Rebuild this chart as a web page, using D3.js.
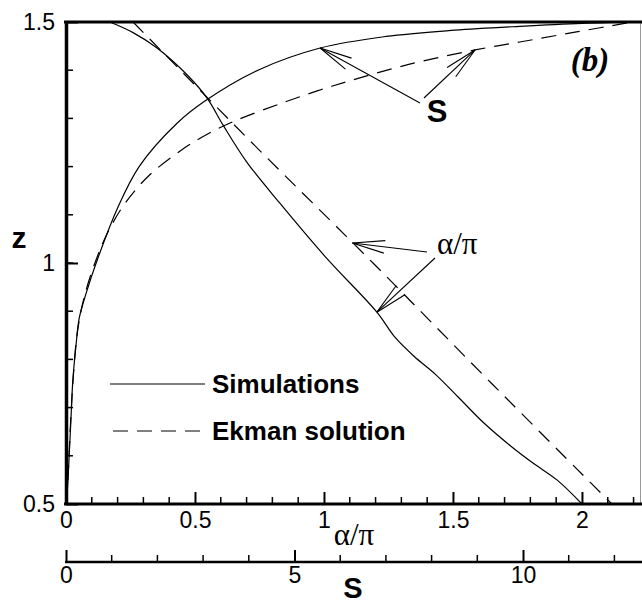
<!DOCTYPE html>
<html><head><meta charset="utf-8">
<script src="https://cdn.jsdelivr.net/npm/d3@7"></script>
<style>
html,body{margin:0;padding:0;background:#fff;}
svg{display:block;}
</style></head>
<body>
<svg id="chart" width="642" height="605"></svg>
<script>
// Axis ticks
const zTicks = [0.5, 1, 1.5];
const alphaTicks = [0, 0.5, 1, 1.5, 2];
const sTicks = [0, 5, 10];

// Rotation angle alpha/pi against height z
const simAlpha = [[0.17,1.5],[0.26,1.478],[0.353,1.446],[0.47,1.39],[0.547,1.342],[0.609,1.286],
  [0.70,1.21],[0.829,1.124],[1.01,1.01],[1.205,0.898],[1.275,0.846],[1.35,0.806],[1.43,0.77],
  [1.52,0.722],[1.62,0.668],[1.72,0.622],[1.81,0.585],[1.903,0.55],[2.0,0.5]];
const ekmanAlpha = [[0.26,1.5],[0.72,1.25],[1.19,1.0],[1.65,0.75],[2.116,0.5]];

// Speed S against height z
const simS = [[0,0.5],[0.03,0.53],[0.07,0.6],[0.11,0.68],[0.15,0.757],[0.22,0.83],[0.29,0.886],
  [0.45,0.94],[0.66,1.0],[1.11,1.11],[1.6,1.2],[2.43,1.29],[3.04,1.336],[4.2,1.4],[5.56,1.446],
  [7.0,1.47],[8.5,1.483],[9.93,1.491],[11.3,1.497],[12.56,1.5]];
const ekmanS = [[0,0.5],[0.04,0.55],[0.09,0.65],[0.15,0.75],[0.24,0.85],[0.4,0.93],[0.68,1.012],
  [0.95,1.07],[1.3,1.125],[1.8,1.18],[2.49,1.232],[3.05,1.265],[3.65,1.293],[4.79,1.334],
  [5.56,1.359],[6.21,1.378],[7.5,1.412],[8.95,1.442],[9.93,1.4585],[11.2,1.48],[12.4,1.5]];

const legendItems = [{name:"Simulations", dash:null}, {name:"Ekman solution", dash:"15,9"}];

const svg = d3.select("#chart");
const L = 66, R = 640, T = 22, B = 504, SY = 562;
const sans = "'Liberation Sans', Arial, sans-serif";
const serif = "'Liberation Serif', 'Times New Roman', serif";

const xA = d3.scaleLinear().domain([0, 2.225]).range([L, R]);
const xS = d3.scaleLinear().domain([0, 12.56]).range([L, R]);
const y = d3.scaleLinear().domain([0.5, 1.5]).range([B, T]);

// curves
svg.append("defs").append("clipPath").attr("id","plot")
  .append("rect").attr("x",L).attr("y",T-1).attr("width",R-L).attr("height",B-T+1);
const g = svg.append("g").attr("clip-path","url(#plot)");
const lineA = d3.line().x(d=>xA(d[0])).y(d=>y(d[1])).curve(d3.curveCatmullRom.alpha(0.5));
const lineS = d3.line().x(d=>xS(d[0])).y(d=>y(d[1])).curve(d3.curveCatmullRom.alpha(0.5));
const series = [
  {data: simAlpha, line: lineA, dash: null},
  {data: ekmanAlpha, line: lineA, dash: "15,9"},
  {data: simS, line: lineS, dash: null},
  {data: ekmanS, line: lineS, dash: "15,9"}
];
series.forEach(s => {
  g.append("path").attr("d", s.line(s.data)).attr("fill","none")
    .attr("stroke","#000").attr("stroke-width",1.2)
    .attr("stroke-dasharray", s.dash);
});

// frame
svg.append("line").attr("x1",R+0.5).attr("x2",R+0.5).attr("y1",T).attr("y2",B)
  .attr("stroke","#999").attr("stroke-width",1);
svg.append("line").attr("x1",L-2).attr("x2",642).attr("y1",T).attr("y2",T)
  .attr("stroke","#000").attr("stroke-width",3);

function styleAxis(sel, w) {
  sel.select(".domain").attr("stroke","#000").attr("stroke-width",w);
  sel.selectAll(".tick line").attr("stroke","#000").attr("stroke-width",2);
  sel.selectAll(".tick text").attr("font-family",sans).attr("font-size",23).attr("fill","#000");
}

// minor ticks
function minor(scale, values, draw) { values.forEach(v => draw(scale(v))); }

// z axis
const ya = svg.append("g").attr("transform",`translate(${L},0)`)
  .call(d3.axisLeft(y).tickValues(zTicks).tickFormat(d3.format("")).tickSizeInner(-12).tickSizeOuter(0).tickPadding(11));
styleAxis(ya, 3.5);
minor(y, d3.range(0.6,1.45,0.1), v => svg.append("line").attr("x1",L).attr("x2",L+7)
  .attr("y1",v).attr("y2",v).attr("stroke","#000").attr("stroke-width",1.5));

// alpha/pi axis
const xa = svg.append("g").attr("transform",`translate(0,${B})`)
  .call(d3.axisBottom(xA).tickValues(alphaTicks).tickFormat(d3.format("")).tickSizeInner(-12).tickSizeOuter(0).tickPadding(8));
styleAxis(xa, 3);
xa.select(".domain").attr("d", `M${L-2},0H642`);
minor(xA, d3.range(0.1,2.25,0.1).filter(v => Math.abs(v*2-Math.round(v*2))>1e-6), v =>
  svg.append("line").attr("x1",v).attr("x2",v).attr("y1",B).attr("y2",B-7)
    .attr("stroke","#000").attr("stroke-width",1.5));

// S axis
const xs = svg.append("g").attr("transform",`translate(0,${SY})`)
  .call(d3.axisBottom(xS).tickValues(sTicks).tickFormat(d3.format("")).tickSizeInner(-12).tickSizeOuter(0).tickPadding(5));
styleAxis(xs, 2.5);
xs.select(".domain").attr("d", `M${L-1},0H642`);
minor(xS, d3.range(1,13,1).filter(v => v%5!==0), v =>
  svg.append("line").attr("x1",v).attr("x2",v).attr("y1",SY).attr("y2",SY-7)
    .attr("stroke","#000").attr("stroke-width",1.5));

// axis titles
svg.append("text").attr("x",19).attr("y",248).attr("text-anchor","middle")
  .attr("font-family",sans).attr("font-weight","bold").attr("font-size",30).text("z");
svg.append("text").attr("x",354).attr("y",545).attr("text-anchor","middle")
  .attr("font-family",serif).attr("font-size",31).text("α/π");
svg.append("text").attr("x",353).attr("y",598).attr("text-anchor","middle")
  .attr("font-family",sans).attr("font-weight","bold").attr("font-size",29).text("S");
svg.append("text").attr("x",590).attr("y",71).attr("text-anchor","middle")
  .attr("font-family",serif).attr("font-weight","bold").attr("font-style","italic")
  .attr("font-size",33).text("(b)");

// annotations with open arrowheads
function arrow(tail, tip) {
  const ang = Math.atan2(tail[1]-tip[1], tail[0]-tip[0]);
  const len = 33, spread = 11*Math.PI/180;
  svg.append("line").attr("x1",tail[0]).attr("y1",tail[1]).attr("x2",tip[0]).attr("y2",tip[1])
    .attr("stroke","#000").attr("stroke-width",1.1);
  [-spread, spread].forEach(s => {
    svg.append("line").attr("x1",tip[0]).attr("y1",tip[1])
      .attr("x2",tip[0]+len*Math.cos(ang+s)).attr("y2",tip[1]+len*Math.sin(ang+s))
      .attr("stroke","#000").attr("stroke-width",1.1);
  });
}
svg.append("text").attr("x",437).attr("y",122).attr("text-anchor","middle")
  .attr("font-family",sans).attr("font-weight","bold").attr("font-size",31).text("S");
arrow([420,103], [xS(simS[14][0]), y(simS[14][1])]);
arrow([424,98], [xS(ekmanS[17][0]), y(ekmanS[17][1])]);

svg.append("text").attr("x",437).attr("y",254)
  .attr("font-family",serif).attr("font-size",31).text("α/π");
const zTipE = 1.0415;
arrow([427,252], [xA(1.110), y(zTipE)]);
arrow([435,258], [xA(simAlpha[9][0]), y(simAlpha[9][1])]);

// legend
legendItems.forEach((it, i) => {
  const ly = 384 + i*47;
  svg.append("line").attr("x1", it.dash ? 113 : 110).attr("x2",205).attr("y1",ly).attr("y2",ly)
    .attr("stroke","#000").attr("stroke-width",1.2).attr("stroke-dasharray",it.dash);
  svg.append("text").attr("x",212).attr("y",ly+9)
    .attr("font-family",sans).attr("font-weight","bold").attr("font-size",26).text(it.name);
});
</script>
</body></html>
